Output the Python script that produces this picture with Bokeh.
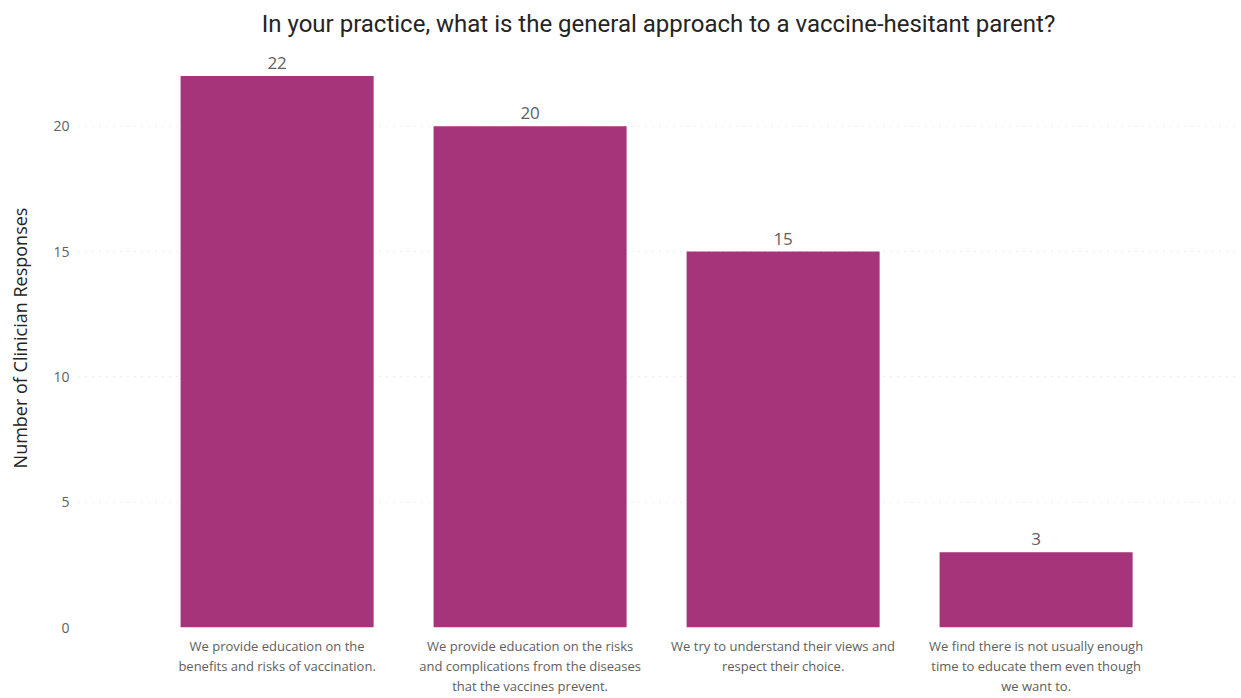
from bokeh.plotting import figure
from bokeh.models import Range1d, FixedTicker, ColumnDataSource
from bokeh.core.properties import value
from bokeh.embed import file_html
from bokeh.resources import INLINE

# Survey answers and clinician counts
categories = [
    "We provide education on the\nbenefits and risks of vaccination.",
    "We provide education on the risks\nand complications from the diseases\nthat the vaccines prevent.",
    "We try to understand their views and\nrespect their choice.",
    "We find there is not usually enough\ntime to educate them even though\nwe want to.",
]
responses = [22, 20, 15, 3]
y_ticks = [0, 5, 10, 15, 20]

positions = list(range(len(categories)))
source = ColumnDataSource(dict(
    x=positions,
    top=responses,
    label=[str(v) for v in responses],
))

BAR = "#A6347A"
GREY = "#605E5C"
DARK = "#252423"

p = figure(
    width=1241, height=698,
    x_range=Range1d(-0.785, 3.80),
    y_range=Range1d(0, 23.1),
    output_backend="svg",
    toolbar_location=None,
    min_border_left=78, min_border_right=3,
    min_border_top=0, min_border_bottom=70,
    title="In your practice, what is the general approach to a vaccine-hesitant parent?",
)
p.outline_line_color = None
p.background_fill_color = "white"
p.border_fill_color = "white"

p.title.align = "center"
p.title.vertical_align = "top"
p.title.text_font = "Roboto"
p.title.text_font_size = "24px"
p.title.text_line_height = 0.8
p.title.text_font_style = "normal"
p.title.text_color = DARK
p.title.standoff = 18

p.vbar(x="x", top="top", width=0.763, bottom=0, source=source,
       fill_color=BAR, line_color=None)

p.text(x="x", y="top", text="label", source=source,
       text_align="center", text_baseline="bottom", y_offset=-7,
       text_font=value("Open Sans"), text_font_size="17px", text_color=GREY)

# y axis
p.yaxis.ticker = FixedTicker(ticks=y_ticks)
p.yaxis.axis_line_color = None
p.yaxis.major_tick_line_color = None
p.yaxis.minor_tick_line_color = None
p.yaxis.major_tick_out = 0
p.yaxis.major_tick_in = 0
p.yaxis.minor_tick_out = 0
p.yaxis.major_label_text_font = "Open Sans"
p.yaxis.major_label_text_font_size = "14px"
p.yaxis.major_label_text_color = GREY
p.yaxis.major_label_standoff = 9
p.yaxis.axis_label = "Number of Clinician Responses"
p.yaxis.axis_label_text_font = "Open Sans"
p.yaxis.axis_label_text_font_size = "18px"
p.yaxis.axis_label_text_font_style = "normal"
p.yaxis.axis_label_text_color = DARK
p.yaxis.axis_label_standoff = 18

# x axis with wrapped category text
p.xaxis.ticker = FixedTicker(ticks=positions)
p.xaxis.major_label_overrides = {i: c for i, c in enumerate(categories)}
p.xaxis.axis_line_color = None
p.xaxis.major_tick_line_color = None
p.xaxis.minor_tick_line_color = None
p.xaxis.major_tick_out = 0
p.xaxis.major_tick_in = 0
p.xaxis.minor_tick_out = 0
p.xaxis.major_label_text_font = "Open Sans"
p.xaxis.major_label_text_font_size = "13px"
p.xaxis.major_label_text_line_height = 1.13
p.xaxis.major_label_text_color = GREY
p.xaxis.major_label_standoff = 9

p.xgrid.grid_line_color = None
p.ygrid.grid_line_color = "#D6D6D6"
p.ygrid.grid_line_dash = "1 6"
p.ygrid.grid_line_width = 1

open("out.html", "w").write(file_html(p, INLINE))
